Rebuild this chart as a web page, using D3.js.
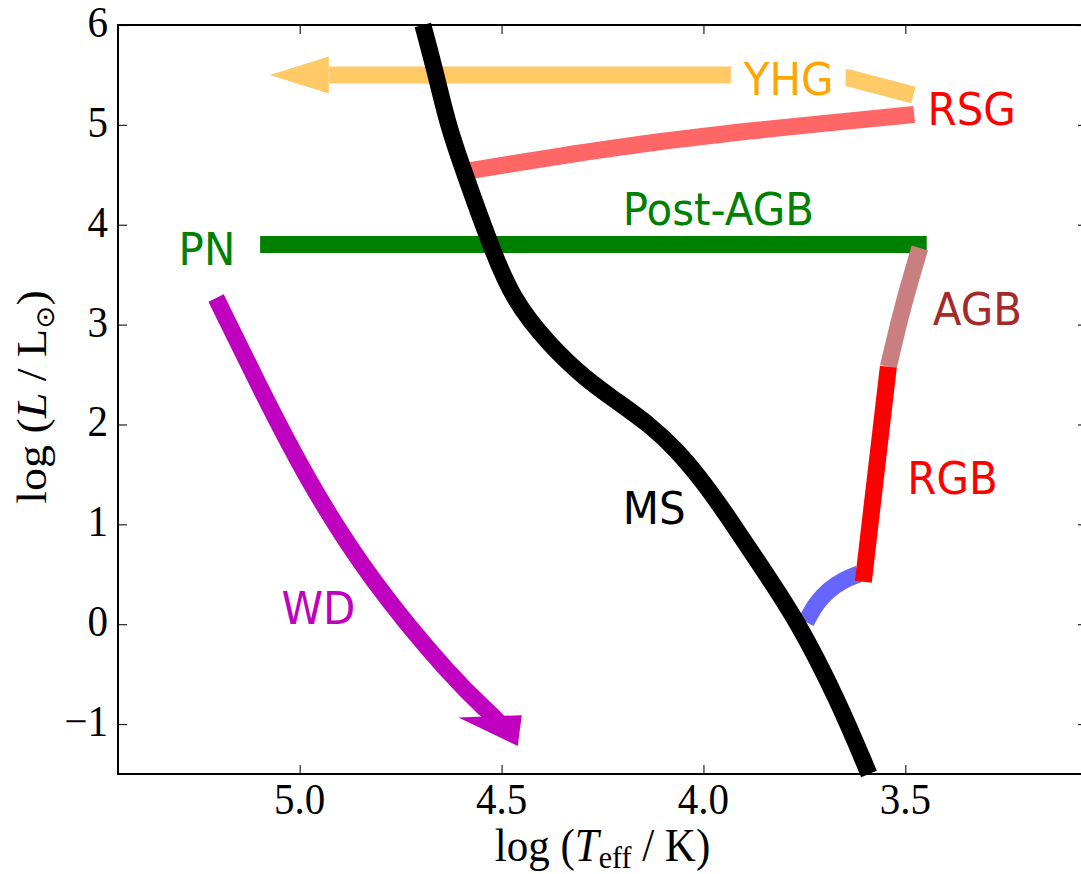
<!DOCTYPE html>
<html><head><meta charset="utf-8">
<script src="https://cdn.jsdelivr.net/npm/d3@7"></script>
<style>body{margin:0;background:#fff;overflow:hidden}</style>
</head><body><svg id="c" width="1081" height="874"></svg>
<script>
// ---- data (log Teff, log L) ----
const xTicks = [5.0, 4.5, 4.0, 3.5];
const yTicks = [-1, 0, 1, 2, 3, 4, 5, 6];
const xTickLabels = ["5.0", "4.5", "4.0", "3.5"];
const yTickLabels = ["\u22121", "0", "1", "2", "3", "4", "5", "6"];

const msT = [4.695, 4.662, 4.633, 4.593, 4.529, 4.472, 4.380, 4.293, 4.219, 4.132, 4.066, 4.004, 3.942, 3.860, 3.768, 3.667, 3.590];
const msL = [6.0, 5.499, 4.999, 4.528, 3.807, 3.246, 2.79, 2.46, 2.245, 1.995, 1.744, 1.444, 1.093, 0.593, 0.042, -0.759, -1.5];

const sgbT = [3.746, 3.721, 3.690, 3.655, 3.615];
const sgbL = [0.022, 0.212, 0.342, 0.443, 0.503];

const rgbT = [3.542, 3.604];
const rgbL = [2.578, 0.426];

const agbT = [3.464, 3.506, 3.542];
const agbL = [3.767, 3.196, 2.578];

const pagbT = [5.098, 3.447];
const pagbL = [3.802, 3.802];

const rsgT = [4.598, 4.355, 4.132, 3.885, 3.637, 3.478];
const rsgL = [4.53, 4.688, 4.818, 4.938, 5.04, 5.104];

const yhgT = [3.48, 3.64, 3.72, 4.927];
const yhgL = [5.30, 5.47, 5.50, 5.50];
const yhgTip = [5.074, 5.50];

const wdT = [5.207, 5.108, 4.982, 4.826, 4.618, 4.529, 4.505];
const wdL = [3.266, 2.445, 1.444, 0.443, -0.559, -0.889, -0.99];
const wdTip = [4.460, -1.22];

const labels = [
  {text: "YHG", t: 3.90, l: 5.30, color: "#ffa500", box: true},
  {text: "RSG", t: 3.445, l: 5.0, color: "#ff0000"},
  {text: "Post-AGB", t: 4.20, l: 4.0, color: "#008000"},
  {text: "PN", t: 5.30, l: 3.6, color: "#008000"},
  {text: "AGB", t: 3.432, l: 3.0, color: "#a52a2a"},
  {text: "RGB", t: 3.495, l: 1.3, color: "#ff0000"},
  {text: "MS", t: 4.20, l: 1.0, color: "#000000"},
  {text: "WD", t: 5.045, l: 0.0, color: "#bf00bf"}
];

// ---- layout ----
const L0 = 118, R0 = 1087, T0 = 25, B0 = 774;
const svg = d3.select("#c");
const x = d3.scaleLinear().domain([5.45, 3.05]).range([L0, R0]);
const y = d3.scaleLinear().domain([-1.5, 6]).range([B0, T0]);
const SY = 1.07; // vertical text stretch of reference

const zip = (a, b) => a.map((v, i) => [v, b[i]]);
const lineM = d3.line().x(d => x(d[0])).y(d => y(d[1])).curve(d3.curveMonotoneX);
const lineB = d3.line().x(d => x(d[0])).y(d => y(d[1])).curve(d3.curveBasis);
const lineS = d3.line().x(d => x(d[0])).y(d => y(d[1]));
const LW = 17;

const plot = svg.append("g");
function track(data, gen, color) {
  plot.append("path").attr("d", gen(data)).attr("fill", "none")
    .attr("stroke", color).attr("stroke-width", LW).attr("stroke-linecap", "butt")
    .attr("stroke-linejoin", "round");
}
function head(base, tip, shape, color) {
  const bx = x(base[0]), by = y(base[1]), tx = x(tip[0]), ty = y(tip[1]);
  const len = Math.hypot(tx - bx, ty - by);
  const dx = (tx - bx) / len, dy = (ty - by) / len;
  const nx = -dy, ny = dx;
  const pts = [[tx, ty]].concat(shape.map(([a, b]) => [tx + a * dx + b * nx, ty + a * dy + b * ny]));
  plot.append("polygon").attr("points", pts.map(p => p.join(",")).join(" ")).attr("fill", color);
}

track(zip(pagbT, pagbL), lineS, "#008000");
track(zip(agbT, agbL), lineB, "#c97f7f");
track(zip(sgbT, sgbL), lineB, "#6666ff");
track(zip(rgbT, rgbL), lineS, "#ff0000");
track(zip(rsgT, rsgL), lineM, "#ff6666");
track(zip(yhgT, yhgL), lineS, "#ffc966");
head([yhgT[yhgT.length - 1], yhgL[yhgL.length - 1]], yhgTip, [[-59, 18.5], [-59, -18.5]], "#ffc966");
track(zip(wdT, wdL), lineB, "#bf00bf");
head([wdT[wdT.length - 2], wdL[wdL.length - 2]], wdTip, [[-60, 27], [-21, -23]], "#bf00bf");
track(zip(msT, msL), lineB, "#000000");

// ---- labels ----
labels.forEach(d => {
  const g = svg.append("g").attr("transform", `translate(${x(d.t)},${y(d.l)}) scale(1,${SY})`);
  const t = g.append("text").attr("x", 0).attr("y", 0)
    .attr("font-family", "DejaVu Sans").attr("font-size", 42).attr("fill", d.color).text(d.text);
  if (d.box) {
    const bb = t.node().getBBox();
    g.insert("rect", "text").attr("x", bb.x - 12).attr("y", bb.y - 4)
      .attr("width", bb.width + 24).attr("height", bb.height + 8).attr("fill", "#fff");
  }
});

// ---- axes ----
const ax = svg.append("g");
ax.append("g").attr("transform", `translate(0,${B0})`).call(d3.axisBottom(x).tickValues(xTicks).tickSize(-9).tickFormat(""));
ax.append("g").attr("transform", `translate(0,${T0})`).call(d3.axisTop(x).tickValues(xTicks).tickSize(-9).tickFormat(""));
ax.append("g").attr("transform", `translate(${L0},0)`).call(d3.axisLeft(y).tickValues(yTicks).tickSize(-9).tickFormat(""));
ax.append("g").attr("transform", `translate(${R0},0)`).call(d3.axisRight(y).tickValues(yTicks).tickSize(-9).tickFormat(""));
ax.selectAll(".domain").remove();
ax.selectAll(".tick line").attr("stroke", "#222").attr("stroke-width", 1.2);
svg.append("rect").attr("x", L0).attr("y", T0).attr("width", R0 - L0).attr("height", B0 - T0)
  .attr("fill", "none").attr("stroke", "#000").attr("stroke-width", 2);

const serif = "Liberation Serif, Times New Roman, serif";
xTicks.forEach((v, i) => {
  svg.append("text").attr("transform", `translate(${x(v)},${B0 + 40}) scale(1,${SY})`)
    .attr("text-anchor", "middle").attr("font-family", serif).attr("font-size", 41).text(xTickLabels[i]);
});
yTicks.forEach((v, i) => {
  svg.append("text").attr("transform", `translate(${L0 - 10},${y(v) + 12}) scale(1,${SY})`)
    .attr("text-anchor", "end").attr("font-family", serif).attr("font-size", 41).text(yTickLabels[i]);
});

// x label
const xl = svg.append("text").attr("transform", `translate(${(L0 + R0) / 2},861) scale(1,${SY})`)
  .attr("text-anchor", "middle").attr("font-family", serif).attr("font-size", 43);
xl.append("tspan").text("log (");
xl.append("tspan").attr("font-style", "italic").text("T");
xl.append("tspan").attr("font-size", 30).attr("dy", 7).text("eff");
xl.append("tspan").attr("dy", -7).text(" / K)");

// y label
const yl = svg.append("text").attr("transform", `translate(46,397) rotate(-90) scale(${SY},1)`)
  .attr("text-anchor", "middle").attr("font-family", serif).attr("font-size", 43);
yl.append("tspan").text("log (");
yl.append("tspan").attr("font-style", "italic").text("L");
yl.append("tspan").text(" / L");
yl.append("tspan").attr("font-size", 26).attr("dy", 8).attr("font-family", "DejaVu Sans").text("\u2299");
yl.append("tspan").attr("dy", -8).text(")");
</script></body></html>
